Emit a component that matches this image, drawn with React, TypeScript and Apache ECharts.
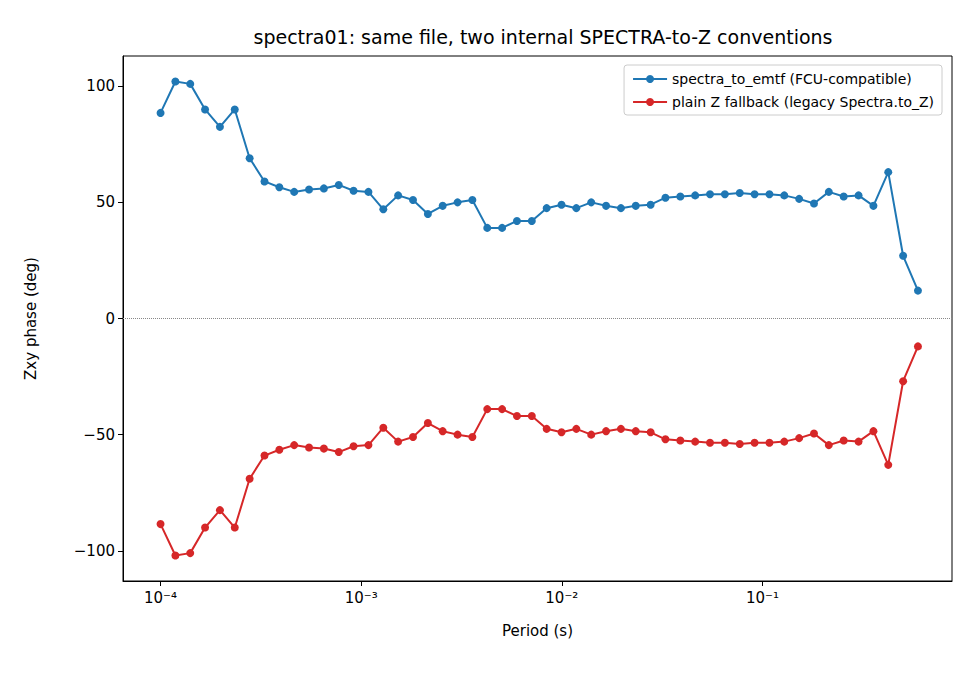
import React, { useEffect, useRef } from "react";
import * as echarts from "echarts";

const periods = [1.0e-4, 1.186e-4, 1.406e-4, 1.667e-4, 1.977e-4, 2.344e-4, 2.78e-4, 3.296e-4, 3.909e-4, 4.635e-4, 5.496e-4, 6.517e-4, 7.728e-4, 9.164e-4, 1.087e-3, 1.289e-3, 1.528e-3, 1.812e-3, 2.149e-3, 2.548e-3, 3.022e-3, 3.583e-3, 4.249e-3, 5.038e-3, 5.974e-3, 7.085e-3, 8.401e-3, 9.962e-3, 1.181e-2, 1.401e-2, 1.661e-2, 1.97e-2, 2.336e-2, 2.77e-2, 3.284e-2, 3.895e-2, 4.618e-2, 5.476e-2, 6.494e-2, 7.701e-2, 9.132e-2, 0.1083, 0.1284, 0.1523, 0.1806, 0.2141, 0.2539, 0.3011, 0.3571, 0.4234, 0.5021, 0.5954];
const emtf = [88.5, 102, 101, 90, 82.5, 90, 69, 59, 56.5, 54.5, 55.5, 56, 57.5, 55, 54.5, 47, 53, 51, 45, 48.5, 50, 51, 39, 39, 42, 42, 47.5, 49, 47.5, 50, 48.5, 47.5, 48.5, 49, 52, 52.5, 53, 53.5, 53.5, 54, 53.5, 53.5, 53, 51.5, 49.5, 54.5, 52.5, 53, 48.5, 63, 27, 12];
const plain = [-88.5, -102, -101, -90, -82.5, -90, -69, -59, -56.5, -54.5, -55.5, -56, -57.5, -55, -54.5, -47, -53, -51, -45, -48.5, -50, -51, -39, -39, -42, -42, -47.5, -49, -47.5, -50, -48.5, -47.5, -48.5, -49, -52, -52.5, -53, -53.5, -53.5, -54, -53.5, -53.5, -53, -51.5, -49.5, -54.5, -52.5, -53, -48.5, -63, -27, -12];
const yTicks = [-100, -50, 0, 50, 100];
const xTicks = [1e-4, 1e-3, 1e-2, 1e-1];
const sup: Record<string, string> = { "-": "⁻", "0": "⁰", "1": "¹", "2": "²", "3": "³", "4": "⁴", "5": "⁵" };

export default function App() {
  const ref = useRef<HTMLDivElement>(null);
  useEffect(() => {
    document.body.style.margin = "0";
    const chart = echarts.init(ref.current!, null, { renderer: "svg" });
    const font = "DejaVu Sans";
    chart.setOption({
      animation: false,
      textStyle: { fontFamily: font },
      title: { text: "spectra01: same file, two internal SPECTRA-to-Z conventions", left: 538, top: 22, textAlign: "center", textStyle: { fontSize: 19, fontWeight: "normal", color: "#000", fontFamily: font } },
      grid: { left: 123, right: 23, top: 56, bottom: 94 },
      legend: {
        right: 33, top: 65, orient: "vertical", itemWidth: 34, itemHeight: 10, itemGap: 9,
        borderColor: "#ccc", borderWidth: 1, borderRadius: 3, padding: [7, 8, 6, 8],
        textStyle: { fontSize: 14, color: "#000", fontFamily: font },
        data: ["spectra_to_emtf (FCU-compatible)", "plain Z fallback (legacy Spectra.to_Z)"],
      },
      xAxis: {
        type: "log", logBase: 10, min: 6.5e-5, max: 0.88,
        name: "Period (s)", nameLocation: "middle", nameGap: 42, nameTextStyle: { fontSize: 15, color: "#000" },
        axisLine: { onZero: false, lineStyle: { color: "#000" } },
        axisTick: { customValues: xTicks, length: 5, lineStyle: { color: "#000" } },
        axisLabel: {
          customValues: xTicks, fontSize: 15, color: "#000", margin: 9,
          formatter: (v: number) => "10" + String(Math.round(Math.log10(v))).split("").map((c) => sup[c]).join(""),
        },
        splitLine: { show: false },
      },
      yAxis: {
        type: "value", min: -113, max: 113,
        name: "Zxy phase (deg)", nameLocation: "middle", nameGap: 85, nameTextStyle: { fontSize: 15, color: "#000" },
        axisLine: { show: true, onZero: false, lineStyle: { color: "#000" } },
        axisTick: { show: true, customValues: yTicks, length: 5, lineStyle: { color: "#000" } },
        axisLabel: { customValues: yTicks, fontSize: 15, color: "#000", formatter: (v: number) => String(v).replace("-", "−") },
        splitLine: { show: false },
      },
      series: [
        {
          name: "spectra_to_emtf (FCU-compatible)", type: "line", data: periods.map((p, i) => [p, emtf[i]]),
          symbol: "circle", symbolSize: 8, itemStyle: { color: "#1f77b4" }, lineStyle: { width: 2, color: "#1f77b4" },
          markLine: { silent: true, symbol: "none", label: { show: false }, lineStyle: { type: "dotted", color: "#888", width: 1 }, data: [{ yAxis: 0 }] },
        },
        {
          name: "plain Z fallback (legacy Spectra.to_Z)", type: "line", data: periods.map((p, i) => [p, plain[i]]),
          symbol: "circle", symbolSize: 8, itemStyle: { color: "#d62728" }, lineStyle: { width: 2, color: "#d62728" },
        },
      ],
      graphic: [{ type: "rect", shape: { x: 123, y: 56, width: 829, height: 525 }, style: { fill: "none", stroke: "#000", lineWidth: 1 }, silent: true }],
    });
    return () => chart.dispose();
  }, []);
  return <div ref={ref} style={{ width: 975, height: 675 }} />;
}
